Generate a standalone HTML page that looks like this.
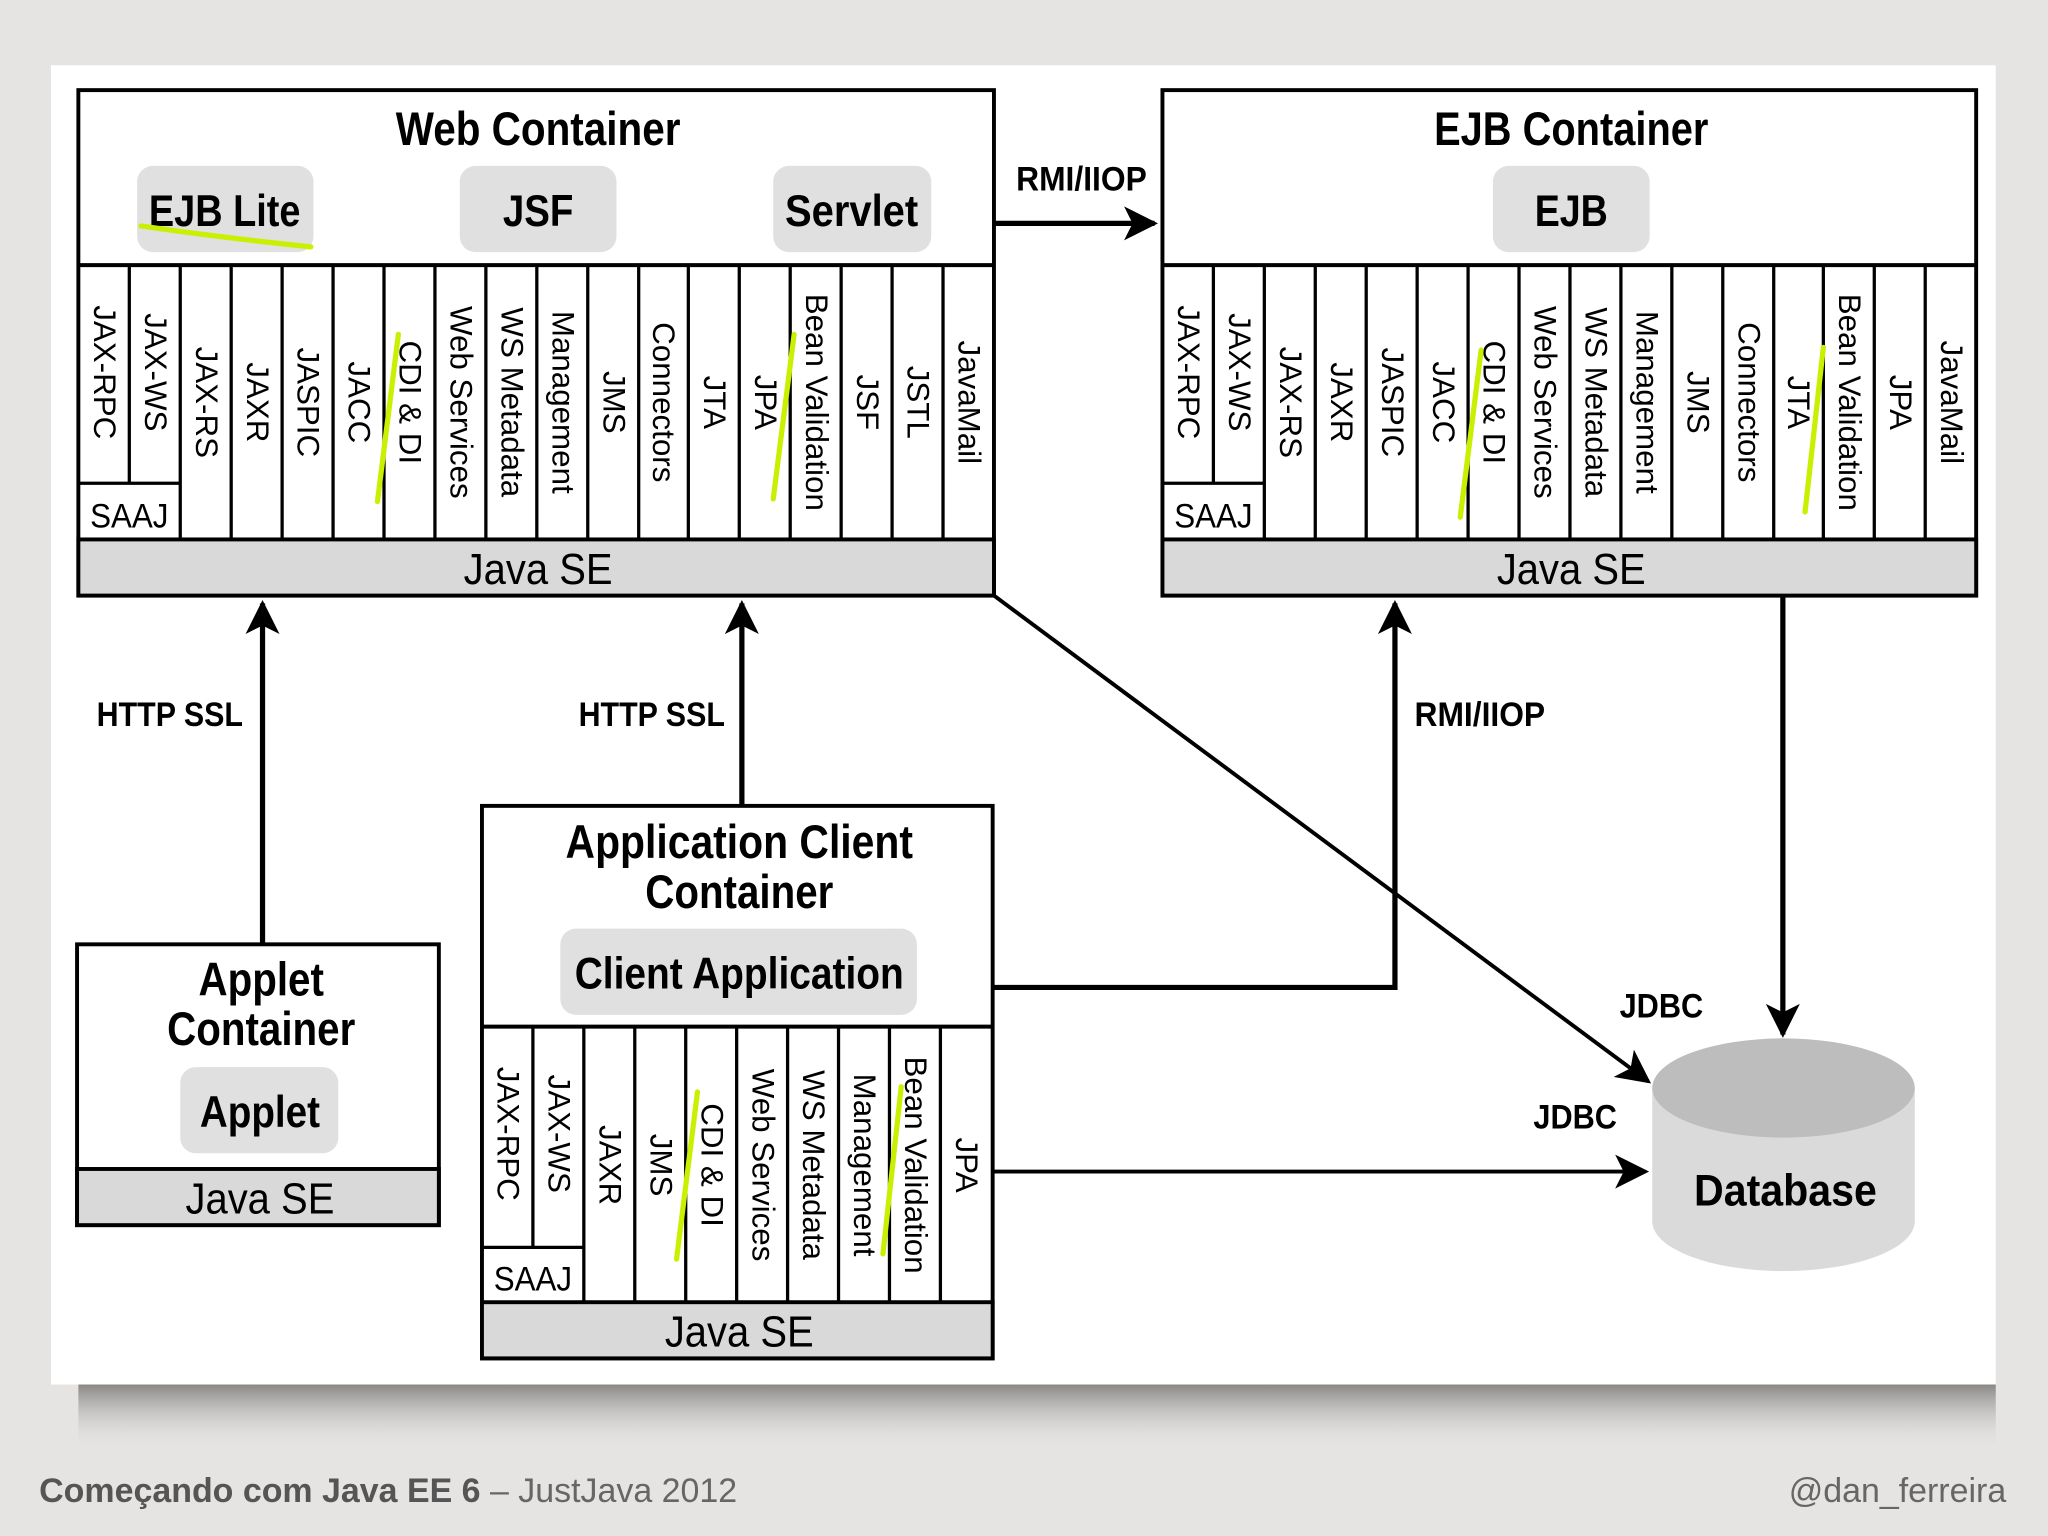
<!DOCTYPE html>
<html><head><meta charset="utf-8"><style>
html,body{margin:0;padding:0;background:#e6e4e2;}
svg{display:block;}
</style></head><body>
<svg width="2048" height="1536" viewBox="0 0 1568 1176" xmlns="http://www.w3.org/2000/svg" font-family="Liberation Sans, sans-serif">
<defs>
<linearGradient id="sh" x1="0" y1="0" x2="0" y2="1"><stop offset="0" stop-color="#8a8886"/><stop offset="1" stop-color="#e4e2e0" stop-opacity="0"/></linearGradient>
<marker id="ar" markerWidth="10" markerHeight="10" refX="8" refY="5" orient="auto" markerUnits="userSpaceOnUse"><path d="M0,0 L10,5 L0,10 L3,5 z" fill="#000"/></marker>
<marker id="arb" viewBox="0 0 10 10" markerWidth="26" markerHeight="26" refX="9" refY="5" orient="auto" markerUnits="userSpaceOnUse"><path d="M0,0 L10,5 L0,10 L2.5,5 z" fill="#000"/></marker>
</defs>
<rect x="0" y="0" width="1568" height="1176" fill="#e6e4e2"/>
<rect x="60" y="1060" width="1468" height="50" fill="url(#sh)"/>
<rect x="39" y="50" width="1489" height="1010" fill="#fff"/>

<g stroke="#000" fill="none">
<!-- connectors -->
<line x1="761" y1="171" x2="884" y2="171" stroke-width="4" marker-end="url(#arb)"/>
<line x1="201" y1="723" x2="201" y2="462" stroke-width="4" marker-end="url(#arb)"/>
<line x1="568" y1="617" x2="568" y2="462" stroke-width="4" marker-end="url(#arb)"/>
<polyline points="760,756 1068,756 1068,462" stroke-width="4" marker-end="url(#arb)"/>
<line x1="761" y1="456" x2="1262" y2="828" stroke-width="3" marker-end="url(#arb)"/>
<line x1="1365" y1="456" x2="1365" y2="792" stroke-width="4" marker-end="url(#arb)"/>
<line x1="760" y1="897" x2="1260" y2="897" stroke-width="3" marker-end="url(#arb)"/>
</g>

<g font-weight="bold" font-size="26" fill="#000">
<text x="828" y="146" text-anchor="middle" textLength="100" lengthAdjust="spacingAndGlyphs">RMI/IIOP</text>
<text x="130" y="556" text-anchor="middle" textLength="112" lengthAdjust="spacingAndGlyphs">HTTP SSL</text>
<text x="499" y="556" text-anchor="middle" textLength="112" lengthAdjust="spacingAndGlyphs">HTTP SSL</text>
<text x="1133" y="556" text-anchor="middle" textLength="100" lengthAdjust="spacingAndGlyphs">RMI/IIOP</text>
<text x="1272" y="779" text-anchor="middle" textLength="64" lengthAdjust="spacingAndGlyphs">JDBC</text>
<text x="1206" y="864" text-anchor="middle" textLength="64" lengthAdjust="spacingAndGlyphs">JDBC</text>
</g>

<!-- Web Container -->
<g>
<rect x="60" y="69" width="701" height="387" fill="#fff" stroke="#000" stroke-width="3"/>
<rect x="60" y="413" width="701" height="43" fill="#d9d9d9" stroke="#000" stroke-width="3"/>
<line x1="60" y1="203" x2="761" y2="203" stroke="#000" stroke-width="3"/>
<g stroke="#000" stroke-width="2.5">
<line x1="99" y1="203" x2="99" y2="370"/><line x1="138" y1="203" x2="138" y2="413"/><line x1="177" y1="203" x2="177" y2="413"/><line x1="216" y1="203" x2="216" y2="413"/><line x1="255" y1="203" x2="255" y2="413"/><line x1="294" y1="203" x2="294" y2="413"/><line x1="333" y1="203" x2="333" y2="413"/><line x1="372" y1="203" x2="372" y2="413"/><line x1="411" y1="203" x2="411" y2="413"/><line x1="450" y1="203" x2="450" y2="413"/><line x1="489" y1="203" x2="489" y2="413"/><line x1="527" y1="203" x2="527" y2="413"/><line x1="566" y1="203" x2="566" y2="413"/><line x1="605" y1="203" x2="605" y2="413"/><line x1="644" y1="203" x2="644" y2="413"/><line x1="683" y1="203" x2="683" y2="413"/><line x1="722" y1="203" x2="722" y2="413"/>
<line x1="60" y1="370" x2="138" y2="370"/>
</g>
<rect x="105" y="127" width="135" height="66" rx="12" fill="#e0e0e0"/>
<rect x="352" y="127" width="120" height="66" rx="12" fill="#e0e0e0"/>
<rect x="592" y="127" width="121" height="66" rx="12" fill="#e0e0e0"/>
<g font-weight="bold" fill="#000" text-anchor="middle">
<text x="412" y="111" font-size="36" textLength="218" lengthAdjust="spacingAndGlyphs">Web Container</text>
<text x="172" y="173" font-size="34" textLength="116" lengthAdjust="spacingAndGlyphs">EJB Lite</text>
<text x="412" y="173" font-size="34" textLength="54" lengthAdjust="spacingAndGlyphs">JSF</text>
<text x="652" y="173" font-size="34" textLength="102" lengthAdjust="spacingAndGlyphs">Servlet</text>
<text x="412" y="447" font-size="33" font-weight="normal" textLength="114" lengthAdjust="spacingAndGlyphs">Java SE</text>
<text x="99" y="404" font-size="26" font-weight="normal" textLength="60" lengthAdjust="spacingAndGlyphs">SAAJ</text>
</g>
<g font-size="24" fill="#000" text-anchor="middle" dominant-baseline="central">
<text transform="translate(80,285) rotate(90)">JAX-RPC</text>
<text transform="translate(119,285) rotate(90)">JAX-WS</text>
<text transform="translate(158,308) rotate(90)">JAX-RS</text>
<text transform="translate(197,308) rotate(90)">JAXR</text>
<text transform="translate(236,308) rotate(90)">JASPIC</text>
<text transform="translate(275,308) rotate(90)">JACC</text>
<text transform="translate(314,308) rotate(90)">CDI &amp; DI</text>
<text transform="translate(353,308) rotate(90)">Web Services</text>
<text transform="translate(392,308) rotate(90)">WS Metadata</text>
<text transform="translate(431,308) rotate(90)">Management</text>
<text transform="translate(470,308) rotate(90)">JMS</text>
<text transform="translate(508,308) rotate(90)">Connectors</text>
<text transform="translate(547,308) rotate(90)">JTA</text>
<text transform="translate(586,308) rotate(90)">JPA</text>
<text transform="translate(625,308) rotate(90)">Bean Validation</text>
<text transform="translate(664,308) rotate(90)">JSF</text>
<text transform="translate(703,308) rotate(90)">JSTL</text>
<text transform="translate(742,308) rotate(90)">JavaMail</text>
</g>
<g stroke="#c8f000" stroke-width="4" stroke-linecap="round" fill="none">
<path d="M108,173 Q170,182 238,189"/>
<line x1="305" y1="256" x2="289" y2="384"/>
<line x1="608" y1="256" x2="592" y2="382"/>
</g>
</g>

<!-- EJB Container -->
<g>
<rect x="890" y="69" width="623" height="387" fill="#fff" stroke="#000" stroke-width="3"/>
<rect x="890" y="413" width="623" height="43" fill="#d9d9d9" stroke="#000" stroke-width="3"/>
<line x1="890" y1="203" x2="1513" y2="203" stroke="#000" stroke-width="3"/>
<g stroke="#000" stroke-width="2.5">
<line x1="929" y1="203" x2="929" y2="370"/><line x1="968" y1="203" x2="968" y2="413"/><line x1="1007" y1="203" x2="1007" y2="413"/><line x1="1046" y1="203" x2="1046" y2="413"/><line x1="1085" y1="203" x2="1085" y2="413"/><line x1="1124" y1="203" x2="1124" y2="413"/><line x1="1163" y1="203" x2="1163" y2="413"/><line x1="1202" y1="203" x2="1202" y2="413"/><line x1="1241" y1="203" x2="1241" y2="413"/><line x1="1280" y1="203" x2="1280" y2="413"/><line x1="1319" y1="203" x2="1319" y2="413"/><line x1="1358" y1="203" x2="1358" y2="413"/><line x1="1396" y1="203" x2="1396" y2="413"/><line x1="1435" y1="203" x2="1435" y2="413"/><line x1="1474" y1="203" x2="1474" y2="413"/>
<line x1="890" y1="370" x2="968" y2="370"/>
</g>
<rect x="1143" y="127" width="120" height="66" rx="12" fill="#e0e0e0"/>
<g font-weight="bold" fill="#000" text-anchor="middle">
<text x="1203" y="111" font-size="36" textLength="210" lengthAdjust="spacingAndGlyphs">EJB Container</text>
<text x="1203" y="173" font-size="34" textLength="56" lengthAdjust="spacingAndGlyphs">EJB</text>
<text x="1203" y="447" font-size="33" font-weight="normal" textLength="114" lengthAdjust="spacingAndGlyphs">Java SE</text>
<text x="929" y="404" font-size="26" font-weight="normal" textLength="60" lengthAdjust="spacingAndGlyphs">SAAJ</text>
</g>
<g font-size="24" fill="#000" text-anchor="middle" dominant-baseline="central">
<text transform="translate(910,285) rotate(90)">JAX-RPC</text>
<text transform="translate(949,285) rotate(90)">JAX-WS</text>
<text transform="translate(988,308) rotate(90)">JAX-RS</text>
<text transform="translate(1027,308) rotate(90)">JAXR</text>
<text transform="translate(1066,308) rotate(90)">JASPIC</text>
<text transform="translate(1105,308) rotate(90)">JACC</text>
<text transform="translate(1144,308) rotate(90)">CDI &amp; DI</text>
<text transform="translate(1183,308) rotate(90)">Web Services</text>
<text transform="translate(1222,308) rotate(90)">WS Metadata</text>
<text transform="translate(1261,308) rotate(90)">Management</text>
<text transform="translate(1300,308) rotate(90)">JMS</text>
<text transform="translate(1339,308) rotate(90)">Connectors</text>
<text transform="translate(1377,308) rotate(90)">JTA</text>
<text transform="translate(1416,308) rotate(90)">Bean Validation</text>
<text transform="translate(1455,308) rotate(90)">JPA</text>
<text transform="translate(1494,308) rotate(90)">JavaMail</text>
</g>
<g stroke="#c8f000" stroke-width="4" stroke-linecap="round" fill="none">
<line x1="1134" y1="268" x2="1118" y2="396"/>
<line x1="1396" y1="266" x2="1382" y2="392"/>
</g>
</g>

<!-- Applet Container -->
<g>
<rect x="59" y="723" width="277" height="215" fill="#fff" stroke="#000" stroke-width="3"/>
<rect x="59" y="895" width="277" height="43" fill="#d9d9d9" stroke="#000" stroke-width="3"/>
<rect x="138" y="817" width="121" height="66" rx="12" fill="#e0e0e0"/>
<g font-weight="bold" fill="#000" text-anchor="middle">
<text x="200" y="762" font-size="36" textLength="96" lengthAdjust="spacingAndGlyphs">Applet</text>
<text x="200" y="800" font-size="36" textLength="144" lengthAdjust="spacingAndGlyphs">Container</text>
<text x="199" y="863" font-size="34" textLength="92" lengthAdjust="spacingAndGlyphs">Applet</text>
<text x="199" y="929" font-size="33" font-weight="normal" textLength="114" lengthAdjust="spacingAndGlyphs">Java SE</text>
</g>
</g>

<!-- Application Client Container -->
<g>
<rect x="369" y="617" width="391" height="423" fill="#fff" stroke="#000" stroke-width="3"/>
<rect x="369" y="997" width="391" height="43" fill="#d9d9d9" stroke="#000" stroke-width="3"/>
<line x1="369" y1="786" x2="760" y2="786" stroke="#000" stroke-width="3"/>
<g stroke="#000" stroke-width="2.5">
<line x1="408" y1="786" x2="408" y2="955"/><line x1="447" y1="786" x2="447" y2="997"/><line x1="486" y1="786" x2="486" y2="997"/><line x1="525" y1="786" x2="525" y2="997"/><line x1="564" y1="786" x2="564" y2="997"/><line x1="603" y1="786" x2="603" y2="997"/><line x1="642" y1="786" x2="642" y2="997"/><line x1="681" y1="786" x2="681" y2="997"/><line x1="720" y1="786" x2="720" y2="997"/>
<line x1="369" y1="955" x2="447" y2="955"/>
</g>
<rect x="429" y="711" width="273" height="66" rx="12" fill="#e0e0e0"/>
<g font-weight="bold" fill="#000" text-anchor="middle">
<text x="566" y="657" font-size="36" textLength="266" lengthAdjust="spacingAndGlyphs">Application Client</text>
<text x="566" y="695" font-size="36" textLength="144" lengthAdjust="spacingAndGlyphs">Container</text>
<text x="566" y="757" font-size="34" textLength="252" lengthAdjust="spacingAndGlyphs">Client Application</text>
<text x="566" y="1031" font-size="33" font-weight="normal" textLength="114" lengthAdjust="spacingAndGlyphs">Java SE</text>
<text x="408" y="988" font-size="26" font-weight="normal" textLength="60" lengthAdjust="spacingAndGlyphs">SAAJ</text>
</g>
<g font-size="24" fill="#000" text-anchor="middle" dominant-baseline="central">
<text transform="translate(389,868) rotate(90)">JAX-RPC</text>
<text transform="translate(428,868) rotate(90)">JAX-WS</text>
<text transform="translate(467,892) rotate(90)">JAXR</text>
<text transform="translate(506,892) rotate(90)">JMS</text>
<text transform="translate(545,892) rotate(90)">CDI &amp; DI</text>
<text transform="translate(584,892) rotate(90)">Web Services</text>
<text transform="translate(623,892) rotate(90)">WS Metadata</text>
<text transform="translate(662,892) rotate(90)">Management</text>
<text transform="translate(701,892) rotate(90)">Bean Validation</text>
<text transform="translate(740,892) rotate(90)">JPA</text>
</g>
<g stroke="#c8f000" stroke-width="4" stroke-linecap="round" fill="none">
<line x1="534" y1="836" x2="518" y2="964"/>
<line x1="690" y1="832" x2="676" y2="960"/>
</g>
</g>

<!-- Database -->
<g>
<path d="M1265,833 L1265,935 A100,38 0 0 0 1466,935 L1466,833 Z" fill="#dadada"/>
<ellipse cx="1365.5" cy="833" rx="100.5" ry="38" fill="#bdbdbd"/>
<text x="1367" y="923" font-size="34" font-weight="bold" text-anchor="middle" textLength="140" lengthAdjust="spacingAndGlyphs">Database</text>
</g>

<!-- footer -->
<text x="30" y="1150" font-size="26" fill="#555"><tspan font-weight="bold">Começando com Java EE 6</tspan><tspan fill="#666"> – JustJava 2012</tspan></text>
<text x="1536" y="1150" font-size="26" fill="#666" text-anchor="end">@dan_ferreira</text>
</svg>
</body></html>
